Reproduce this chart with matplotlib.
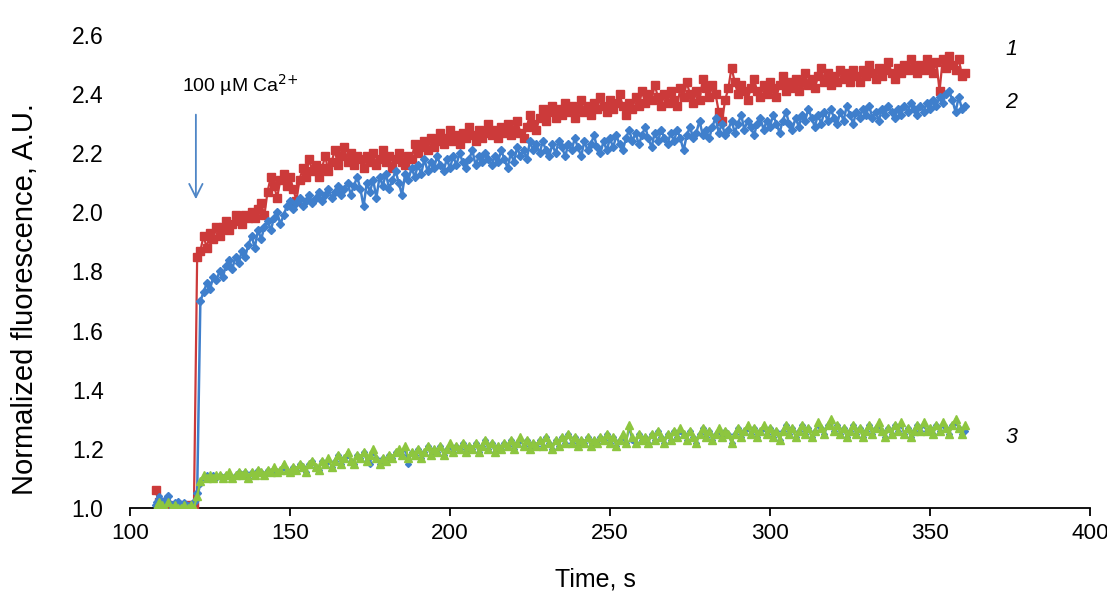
import numpy as np
import matplotlib
matplotlib.use("Agg")
import matplotlib.pyplot as plt

plt.rcParams['font.family'] = ['Liberation Sans', 'DejaVu Sans']

# sampling times, one reading per second
time_s = np.arange(108, 362)

# trace 1
trace_1 = [
    1.06, 1.02, 1.01, 1.00, 1.01, 1.00, 1.00, 1.01, 1.00, 1.00,
    1.01, 1.00, 1.01, 1.85, 1.87, 1.92, 1.88, 1.93, 1.91, 1.95,
    1.92, 1.95, 1.97, 1.94, 1.96, 1.99, 1.97, 1.96, 1.99, 1.98,
    2.00, 1.98, 2.01, 2.03, 1.99, 2.07, 2.12, 2.09, 2.05, 2.11,
    2.13, 2.09, 2.12, 2.08, 2.04, 2.11, 2.15, 2.12, 2.18, 2.14,
    2.16, 2.12, 2.15, 2.19, 2.14, 2.17, 2.21, 2.16, 2.19, 2.22,
    2.17, 2.20, 2.16, 2.19, 2.18, 2.15, 2.19, 2.17, 2.20, 2.16,
    2.18, 2.21, 2.17, 2.19, 2.15, 2.18, 2.20, 2.17, 2.16, 2.19,
    2.18, 2.23, 2.20, 2.22, 2.24, 2.21, 2.25, 2.22, 2.24, 2.27,
    2.23, 2.25, 2.28, 2.24, 2.26, 2.23, 2.27, 2.25, 2.29, 2.26,
    2.24, 2.28, 2.25, 2.27, 2.30, 2.26, 2.28, 2.25, 2.29, 2.27,
    2.30, 2.26, 2.28, 2.31, 2.27, 2.25, 2.29, 2.33, 2.30, 2.28,
    2.32, 2.35, 2.31, 2.34, 2.36, 2.32, 2.35, 2.33, 2.37, 2.34,
    2.36, 2.32, 2.35, 2.38, 2.34, 2.36, 2.33, 2.37, 2.35, 2.39,
    2.36, 2.34, 2.38, 2.35, 2.37, 2.40, 2.36, 2.33, 2.37, 2.35,
    2.39, 2.36, 2.41, 2.37, 2.40, 2.38, 2.43, 2.39, 2.36, 2.40,
    2.37, 2.41, 2.38, 2.36, 2.42, 2.39, 2.44, 2.40, 2.37, 2.41,
    2.38, 2.45, 2.42, 2.39, 2.43, 2.40, 2.34, 2.31, 2.38, 2.42,
    2.49, 2.44, 2.40, 2.43, 2.41, 2.38, 2.42, 2.45, 2.41, 2.39,
    2.43, 2.40, 2.44, 2.42, 2.39, 2.43, 2.46, 2.41, 2.44, 2.42,
    2.45, 2.41, 2.44, 2.47, 2.43, 2.45, 2.42, 2.46, 2.49, 2.44,
    2.47, 2.43, 2.46, 2.44, 2.48, 2.45, 2.47, 2.44, 2.48, 2.46,
    2.44, 2.48, 2.46, 2.50, 2.47, 2.45, 2.49, 2.46, 2.48, 2.51,
    2.47, 2.45, 2.49, 2.47, 2.50, 2.48, 2.52, 2.49, 2.47, 2.50,
    2.48, 2.52, 2.50, 2.47, 2.51, 2.41, 2.52, 2.49, 2.53, 2.50,
    2.48, 2.52, 2.46, 2.47,
]

# trace 2
trace_2 = [
    1.01, 1.03, 1.00, 1.02, 1.04, 1.01, 1.00, 1.02, 1.00, 1.01,
    1.00, 1.01, 1.02, 1.05, 1.70, 1.73, 1.76, 1.74, 1.78, 1.77,
    1.80, 1.78, 1.82, 1.84, 1.81, 1.85, 1.83, 1.87, 1.85, 1.89,
    1.92, 1.88, 1.94, 1.91, 1.95, 1.97, 1.94, 1.98, 2.00, 1.96,
    1.99, 2.02, 2.04, 2.01, 2.03, 2.05, 2.02, 2.04, 2.06, 2.03,
    2.05, 2.07, 2.04, 2.06, 2.08, 2.05, 2.07, 2.09, 2.06, 2.08,
    2.10, 2.06, 2.09, 2.12, 2.08, 2.02, 2.10, 2.07, 2.11, 2.05,
    2.12, 2.09, 2.13, 2.08, 2.11, 2.14, 2.10, 2.06, 2.13, 2.11,
    2.15, 2.12, 2.16, 2.13, 2.18, 2.14, 2.17, 2.15, 2.19, 2.16,
    2.14, 2.18, 2.15, 2.19, 2.16, 2.20, 2.17, 2.15, 2.18, 2.21,
    2.16, 2.19, 2.17, 2.20, 2.18, 2.16, 2.19, 2.17, 2.21, 2.18,
    2.15, 2.20, 2.17, 2.22, 2.19, 2.21, 2.18, 2.24, 2.21, 2.23,
    2.20, 2.24, 2.21, 2.19, 2.23, 2.20, 2.24, 2.22, 2.19, 2.23,
    2.21, 2.25, 2.22, 2.19, 2.24, 2.21, 2.23, 2.26, 2.22, 2.20,
    2.24, 2.21, 2.25, 2.22, 2.26, 2.23, 2.21, 2.25, 2.28, 2.24,
    2.27, 2.23, 2.26, 2.29, 2.25, 2.22, 2.27, 2.24, 2.28, 2.25,
    2.23, 2.27, 2.24, 2.28, 2.25, 2.21, 2.26, 2.29, 2.25, 2.27,
    2.31, 2.26, 2.28, 2.25, 2.29, 2.32, 2.27, 2.30, 2.26, 2.28,
    2.31, 2.27, 2.30, 2.33, 2.28, 2.31, 2.29, 2.26, 2.30, 2.32,
    2.28, 2.31, 2.29, 2.33, 2.30, 2.27, 2.31, 2.34, 2.30, 2.28,
    2.32, 2.29, 2.33, 2.31, 2.35, 2.32, 2.29, 2.33, 2.30, 2.34,
    2.31, 2.35, 2.32, 2.30, 2.34, 2.31, 2.36, 2.33, 2.30, 2.34,
    2.32, 2.35, 2.33, 2.36, 2.32, 2.34, 2.31, 2.35, 2.33, 2.36,
    2.34, 2.32, 2.35, 2.33, 2.36, 2.34, 2.37, 2.35, 2.33, 2.36,
    2.34, 2.37, 2.35, 2.38, 2.36, 2.39, 2.37, 2.40, 2.41, 2.38,
    2.34, 2.39, 2.35, 2.36,
]

# trace 3
trace_3 = [
    1.00, 1.02, 1.01, 1.00, 1.02, 1.00, 1.01, 1.00, 1.00, 1.01,
    1.00, 1.01, 1.00, 1.04, 1.09, 1.11, 1.10, 1.11, 1.10, 1.11,
    1.11, 1.10, 1.11, 1.12, 1.10, 1.11, 1.12, 1.11, 1.12, 1.10,
    1.12, 1.11, 1.13, 1.12, 1.11, 1.13, 1.12, 1.14, 1.12, 1.13,
    1.15, 1.13, 1.12, 1.14, 1.13, 1.15, 1.14, 1.12, 1.15, 1.16,
    1.14, 1.13, 1.16, 1.15, 1.17, 1.14, 1.16, 1.18, 1.15, 1.17,
    1.19, 1.16, 1.15, 1.18, 1.17, 1.19, 1.16, 1.18, 1.20, 1.17,
    1.15, 1.17, 1.16, 1.18, 1.17, 1.19, 1.20, 1.18, 1.21, 1.17,
    1.19, 1.18, 1.20, 1.17, 1.19, 1.21, 1.18, 1.20, 1.19, 1.21,
    1.18, 1.20, 1.22, 1.19, 1.21, 1.20, 1.22, 1.19, 1.21, 1.20,
    1.22, 1.19, 1.21, 1.23, 1.20, 1.22, 1.19, 1.21, 1.20, 1.22,
    1.21, 1.23, 1.20, 1.22, 1.24, 1.21, 1.23, 1.20, 1.22, 1.21,
    1.23, 1.21, 1.24, 1.22, 1.20, 1.23, 1.21, 1.24, 1.22, 1.25,
    1.22, 1.24, 1.21, 1.23, 1.22, 1.24, 1.21, 1.23, 1.22, 1.24,
    1.23, 1.25, 1.22, 1.24, 1.21, 1.23, 1.25, 1.22, 1.28, 1.24,
    1.22, 1.25, 1.23, 1.24, 1.22, 1.25, 1.23, 1.26, 1.24, 1.22,
    1.25, 1.23, 1.26, 1.24, 1.27, 1.25, 1.23, 1.26, 1.24, 1.22,
    1.25, 1.27, 1.24, 1.26, 1.23, 1.25, 1.27, 1.24, 1.26, 1.25,
    1.22, 1.25, 1.27, 1.24, 1.26, 1.28, 1.25, 1.27, 1.24, 1.26,
    1.28, 1.25, 1.27, 1.24, 1.26, 1.23, 1.26, 1.28, 1.25, 1.27,
    1.24, 1.26, 1.28, 1.25, 1.27, 1.24, 1.26, 1.29, 1.27, 1.25,
    1.28, 1.30, 1.26, 1.28, 1.25, 1.27, 1.24, 1.26, 1.28, 1.25,
    1.27, 1.24, 1.26, 1.28, 1.25, 1.27, 1.29, 1.26, 1.24, 1.27,
    1.25, 1.28, 1.26, 1.29, 1.25, 1.27, 1.24, 1.26, 1.28, 1.26,
    1.29, 1.26, 1.27, 1.25, 1.28, 1.26, 1.29, 1.27, 1.25, 1.28,
    1.30, 1.27, 1.25, 1.28,
]

# control trace running underneath trace 3
trace_3_ctrl = [
    1.02, 1.04, 1.01, 1.03, 1.02, 1.00, 1.02, 1.01, 1.00, 1.02,
    1.01, 1.00, 1.02, 1.03, 1.08, 1.10, 1.11, 1.10, 1.11, 1.10,
    1.11, 1.10, 1.11, 1.11, 1.10, 1.11, 1.12, 1.11, 1.12, 1.10,
    1.12, 1.11, 1.13, 1.12, 1.11, 1.13, 1.12, 1.13, 1.12, 1.13,
    1.14, 1.13, 1.12, 1.14, 1.13, 1.15, 1.14, 1.12, 1.15, 1.16,
    1.14, 1.13, 1.16, 1.15, 1.16, 1.14, 1.16, 1.18, 1.15, 1.17,
    1.18, 1.16, 1.15, 1.18, 1.17, 1.19, 1.16, 1.15, 1.19, 1.17,
    1.15, 1.17, 1.16, 1.18, 1.17, 1.19, 1.19, 1.18, 1.20, 1.15,
    1.19, 1.18, 1.20, 1.17, 1.19, 1.21, 1.18, 1.20, 1.19, 1.21,
    1.18, 1.20, 1.21, 1.19, 1.21, 1.20, 1.22, 1.19, 1.21, 1.20,
    1.22, 1.19, 1.21, 1.23, 1.20, 1.22, 1.19, 1.21, 1.20, 1.22,
    1.21, 1.23, 1.20, 1.22, 1.23, 1.21, 1.23, 1.20, 1.22, 1.21,
    1.23, 1.21, 1.24, 1.22, 1.20, 1.23, 1.21, 1.24, 1.22, 1.25,
    1.22, 1.24, 1.21, 1.23, 1.22, 1.24, 1.21, 1.23, 1.22, 1.24,
    1.23, 1.25, 1.22, 1.24, 1.21, 1.23, 1.24, 1.22, 1.27, 1.23,
    1.22, 1.25, 1.23, 1.24, 1.22, 1.25, 1.23, 1.26, 1.24, 1.22,
    1.25, 1.23, 1.26, 1.24, 1.26, 1.25, 1.23, 1.26, 1.24, 1.22,
    1.25, 1.27, 1.24, 1.26, 1.23, 1.25, 1.26, 1.24, 1.26, 1.25,
    1.22, 1.25, 1.27, 1.24, 1.26, 1.27, 1.25, 1.27, 1.24, 1.26,
    1.27, 1.25, 1.27, 1.24, 1.26, 1.23, 1.26, 1.28, 1.25, 1.27,
    1.24, 1.26, 1.28, 1.25, 1.27, 1.24, 1.26, 1.28, 1.27, 1.25,
    1.28, 1.29, 1.26, 1.28, 1.25, 1.27, 1.24, 1.26, 1.28, 1.25,
    1.27, 1.24, 1.26, 1.28, 1.25, 1.27, 1.28, 1.26, 1.24, 1.27,
    1.25, 1.28, 1.26, 1.28, 1.25, 1.27, 1.24, 1.26, 1.28, 1.26,
    1.28, 1.26, 1.27, 1.25, 1.28, 1.26, 1.28, 1.27, 1.25, 1.28,
    1.29, 1.27, 1.25, 1.26,
]

trace_labels = ["1", "2", "3"]

red = "#cc3a3a"
blue = "#3f7fcc"
green = "#8dc63f"

fig = plt.figure(figsize=(11.07, 5.96), dpi=100)
ax = fig.add_axes([0.1174, 0.1477, 0.8672, 0.7936])

ax.plot(time_s, trace_1, color=red, lw=1.6, marker="s", ms=5.5, mec=red, zorder=3)
ax.plot(time_s, trace_2, color=blue, lw=1.8, marker="D", ms=3.8, mec=blue, zorder=4)
ax.plot(time_s, trace_3_ctrl, color=blue, lw=1.4, marker="D", ms=3.0, mec=blue, zorder=4)
ax.plot(time_s, trace_3, color=green, lw=1.6, marker="^", ms=5.5, mec=green, zorder=4.5)

# trace numbers at the right end
ax.text(375.5, 2.55, trace_labels[0], fontsize=15.5, style="italic", ha="center", va="center")
ax.text(375.5, 2.37, trace_labels[1], fontsize=15.5, style="italic", ha="center", va="center")
ax.text(375.5, 1.24, trace_labels[2], fontsize=15.5, style="italic", ha="center", va="center")

# calcium addition
ax.text(134.5, 2.43, "100 µM Ca$^{2{+}}$", fontsize=14, ha="center", va="center")
ax.annotate("", xy=(120.6, 2.035), xytext=(120.6, 2.34),
            arrowprops=dict(arrowstyle="->", color="#4f86c6", lw=1.3,
                            mutation_scale=24))

ax.set_xlim(100, 400)
ax.set_ylim(1.0, 2.6)
ax.set_xticks(np.arange(100, 401, 50))
ax.set_yticks(np.arange(1.0, 2.61, 0.2))
ax.set_yticklabels([f"{v:.1f}" for v in np.arange(1.0, 2.61, 0.2)])

for side in ["top", "right", "left"]:
    ax.spines[side].set_visible(False)
ax.spines["bottom"].set_linewidth(1.3)
ax.tick_params(axis="x", direction="out", length=6, width=1.3, labelsize=16.2, pad=5)
ax.tick_params(axis="y", length=0, labelsize=16.5, pad=19)

ax.set_xlabel("Time, s", fontsize=18, va="center")
ax.set_ylabel("Normalized fluorescence, A.U.", fontsize=21, va="center")
ax.xaxis.set_label_coords(0.485, -0.152)
ax.yaxis.set_label_coords(-0.109, 0.442)

plt.savefig("out.png", dpi=100)
